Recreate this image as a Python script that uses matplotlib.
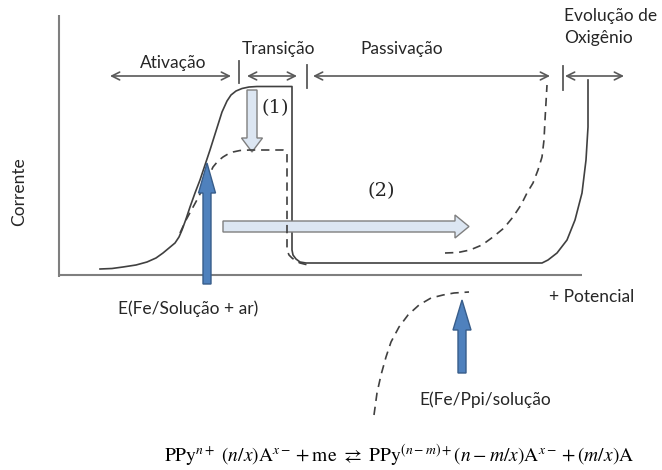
import matplotlib
matplotlib.use("Agg")
import matplotlib.pyplot as plt
from matplotlib.patches import FancyArrow

plt.rcParams['font.family'] = ['Lato', 'DejaVu Sans']
plt.rcParams['mathtext.fontset'] = 'stix'

# curve readings, in picture pixels (x right, y down)
solid_x = [100, 112, 123, 136, 147, 156, 163, 169, 175, 179, 182, 186, 190, 195, 200, 210, 222, 227,
           231, 236, 242, 249, 257, 292,
           292, 293, 296, 300, 306, 320, 542, 548, 557, 567, 575, 582, 586, 588, 588]
solid_y = [269, 268.5, 267, 265, 262, 258, 253, 248, 243, 237, 230, 219, 207, 193, 180, 150, 112, 101,
           95, 91, 88.5, 87, 86.5, 86.5,
           250, 255, 259, 262, 263, 263, 263, 260, 253, 240, 220, 193, 160, 127, 80]

dash1_x = [180, 186, 192, 198, 206, 213, 218, 223, 228, 233, 240, 250, 283, 286, 287, 287, 289, 292, 296, 300, 308]
dash1_y = [233, 220, 209, 198, 182, 167, 161, 157, 154, 152, 150.5, 150, 150, 151, 154, 250, 255, 258, 261, 263, 265]

dash2_x = [445, 458, 470, 482, 493, 504, 513, 521, 527, 533, 538, 542, 544, 545, 547]
dash2_y = [253, 252.5, 250, 245, 237, 228, 217, 205, 193, 183, 170, 157, 140, 120, 85]

dash3_x = [374, 377, 381, 386, 391, 399, 408, 419, 431, 443, 454, 469]
dash3_y = [415, 393, 375, 357, 342, 327, 315, 305, 298, 295, 293, 292]

# region brackets along the top
regions = ["Ativação", "Transição", "Passivação"]
region_start = [110, 247, 313]
region_end = [231, 297, 550]
oxy_start, oxy_end = 565, 624
region_ticks = [239, 307, 563]

fig = plt.figure(figsize=(6.62, 4.70), dpi=100)
ax = fig.add_axes([0, 0, 1, 1])
ax.set_xlim(0, 662)
ax.set_ylim(470, 0)
ax.axis('off')

line_c = '#404040'
axis_c = '#7f7f7f'
txt_c = '#262626'

# axes of the diagram
ax.plot([59, 59], [15, 277], color=axis_c, lw=1.5, solid_capstyle='butt')
ax.plot([59, 582], [275, 275], color=axis_c, lw=1.5, solid_capstyle='butt')

# light arrows (1) and (2)
ax.add_patch(FancyArrow(223, 226.5, 246, 0, width=11, head_width=23, head_length=14,
                        length_includes_head=True, fc='#dce6f2', ec='#7f7f7f', lw=1, zorder=3))
ax.add_patch(FancyArrow(252, 90, 0, 62, width=10, head_width=21, head_length=14,
                        length_includes_head=True, fc='#dce6f2', ec='#7f7f7f', lw=1, zorder=3))

ax.plot(solid_x, solid_y, color=line_c, lw=1.2, zorder=2)
for xs, ys in [(dash1_x, dash1_y), (dash2_x, dash2_y), (dash3_x, dash3_y)]:
    ax.plot(xs, ys, color=line_c, lw=1.2, ls=(0, (5, 3.5)), zorder=4)

# blue arrows for the potentials
ax.add_patch(FancyArrow(207, 284, 0, -121, width=8, head_width=17, head_length=30,
                        length_includes_head=True, fc='#4f81bd', ec='#385d8a', lw=1, zorder=5))
ax.add_patch(FancyArrow(462, 373, 0, -73, width=8, head_width=18, head_length=30,
                        length_includes_head=True, fc='#4f81bd', ec='#385d8a', lw=1, zorder=5))

# region arrows
arr_c = '#595959'
for s, e in zip(region_start + [oxy_start], region_end + [oxy_end]):
    ax.annotate('', xy=(e, 76), xytext=(s, 76),
                arrowprops=dict(arrowstyle='<->', color=arr_c, lw=1.2, mutation_scale=14,
                                shrinkA=0, shrinkB=0))
for t, (y0, y1) in zip(region_ticks, [(61, 83), (65, 88), (66, 90)]):
    ax.plot([t, t], [y0, y1], color=arr_c, lw=1.3)

fs = 12.5
ax.text(173, 63, regions[0], ha='center', va='center', fontsize=fs, color=txt_c)
ax.text(278, 49, regions[1], ha='center', va='center', fontsize=fs, color=txt_c)
ax.text(402, 49, regions[2], ha='center', va='center', fontsize=fs, color=txt_c)
ax.text(564, 27, "Evolução de\nOxigênio", ha='left', va='center', fontsize=fs,
        color=txt_c, linespacing=1.4)

ax.text(275, 108, "(1)", ha='center', va='center', fontsize=14, family='serif', color=txt_c)
ax.text(381, 191, "(2)", ha='center', va='center', fontsize=14, family='serif', color=txt_c)

ax.text(19, 192, "Corrente", ha='center', va='center', rotation=90, fontsize=fs, color=txt_c)
ax.text(188, 309, "E(Fe/Solução + ar)", ha='center', va='center', fontsize=fs, color=txt_c)
ax.text(592, 297, "+ Potencial", ha='center', va='center', fontsize=fs, color=txt_c)
ax.text(485, 400, "E(Fe/Ppi/solução", ha='center', va='center', fontsize=fs, color=txt_c)

ax.text(164, 455, r'$\mathrm{PPy}^{n+}\ (n/x)\mathrm{A}^{x-} + \mathrm{me}\ \rightleftarrows\ '
        r'\mathrm{PPy}^{(n-m)+}(n - m/x)\mathrm{A}^{x-} + (m/x)\mathrm{A}$',
        ha='left', va='center', fontsize=14, color='black')

fig.savefig('out.png', dpi=100)
